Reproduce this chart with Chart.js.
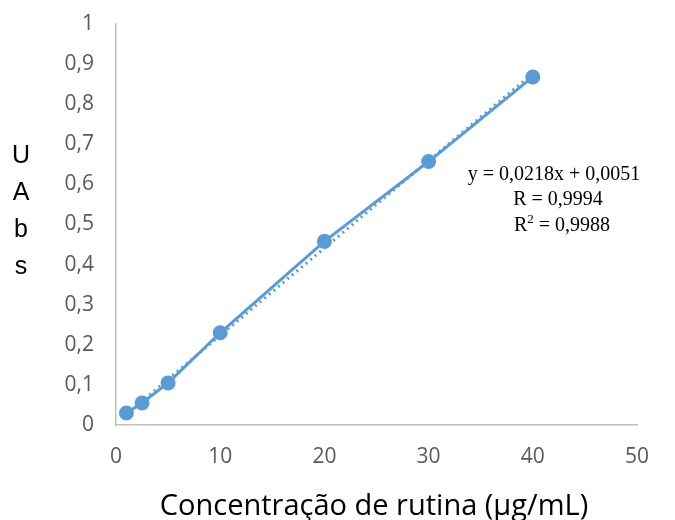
<!DOCTYPE html>
<html>
<head>
<meta charset="utf-8">
<script src="https://cdn.jsdelivr.net/npm/chart.js@4.4.1/dist/chart.umd.min.js"></script>
<style>
  html, body { margin: 0; padding: 0; background: #fff; }
  #wrap { width: 675px; height: 520px; position: relative; }
</style>
</head>
<body>
<div id="wrap"><canvas id="chart" width="675" height="520"></canvas></div>
<script>
// concentração (µg/mL) e absorbância
const concentracao = [1, 2.5, 5, 10, 20, 30, 40];
const absorbancia = [0.030, 0.055, 0.105, 0.230, 0.458, 0.657, 0.868];
// linha de tendência (extremos)
const trendX = [1, 40];
const trendY = [0.027, 0.877];
const xTicks = [0, 10, 20, 30, 40, 50];
const equacao = ['y = 0,0218x + 0,0051', 'R = 0,9994', ' = 0,9988'];
const yTitle = ['U', 'A', 'b', 's'];
const xTitle = 'Concentração de rutina (µg/mL)';

const azul = '#5B9BD5';
const tickFont = { size: 21, family: '"Open Sans", "Noto Sans", sans-serif' };

const extraText = {
    id: 'extraText',
    afterDraw(chart) {
        const ctx = chart.ctx;
        ctx.save();
        ctx.fillStyle = '#000';
        ctx.textBaseline = 'middle';
        ctx.textAlign = 'center';
        ctx.font = '25px "Liberation Sans", Arial, sans-serif';
        yTitle.forEach((ch, i) => ctx.fillText(ch, 21, 156 + i * 37));

        ctx.font = '29px "Open Sans", "Noto Sans", sans-serif';
        ctx.fillText(xTitle, 374, 507);

        const serif = '"Liberation Serif", "Times New Roman", serif';
        ctx.font = '20px ' + serif;
        ctx.fillText(equacao[0], 554, 175);
        ctx.fillText(equacao[1], 558, 200);

        // R² com expoente
        ctx.textAlign = 'left';
        const wR = ctx.measureText('R').width;
        const wRest = ctx.measureText(equacao[2]).width;
        ctx.font = '13px ' + serif;
        const w2 = ctx.measureText('2').width;
        let x = 562 - (wR + w2 + wRest) / 2;
        ctx.font = '20px ' + serif;
        ctx.fillText('R', x, 226);
        ctx.font = '13px ' + serif;
        ctx.fillText('2', x + wR, 220);
        ctx.font = '20px ' + serif;
        ctx.fillText(equacao[2], x + wR + w2, 226);
        ctx.restore();
    }
};

new Chart(document.getElementById('chart').getContext('2d'), {
    type: 'scatter',
    data: {
        datasets: [
            {
                label: 'Abs',
                data: concentracao.map((x, i) => ({ x: x, y: absorbancia[i] })),
                showLine: true,
                borderColor: azul,
                backgroundColor: azul,
                borderWidth: 3,
                pointRadius: 6,
                pointHoverRadius: 6,
                order: 1
            },
            {
                label: 'Linear',
                data: trendX.map((x, i) => ({ x: x, y: trendY[i] })),
                showLine: true,
                borderColor: azul,
                borderWidth: 3,
                borderDash: [2, 4],
                pointRadius: 0,
                order: 2
            }
        ]
    },
    options: {
        responsive: false,
        animation: false,
        clip: false,
        layout: { padding: { left: 0, right: 38, top: 24, bottom: 0 } },
        plugins: {
            legend: { display: false },
            tooltip: { enabled: false }
        },
        scales: {
            x: {
                type: 'linear',
                min: 0,
                max: 50,
                afterBuildTicks: scale => { scale.ticks = xTicks.map(v => ({ value: v })); },
                afterFit: scale => { scale.height = 95; },
                grid: { display: false, drawTicks: false },
                border: { display: true, color: '#BFBFBF', width: 1.5 },
                ticks: { padding: 19, color: '#595959', font: tickFont }
            },
            y: {
                min: 0,
                max: 1,
                afterFit: scale => {
                    scale.width = 116;
                    scale.paddingTop = 0;
                    scale.paddingBottom = 0;
                },
                grid: { display: false, drawTicks: false },
                border: { display: true, color: '#BFBFBF', width: 1.5 },
                ticks: {
                    stepSize: 0.1,
                    padding: 22,
                    color: '#595959',
                    font: tickFont,
                    callback: v => (Math.round(v * 10) / 10).toString().replace('.', ',')
                }
            }
        }
    },
    plugins: [extraText]
});
</script>
</body>
</html>
